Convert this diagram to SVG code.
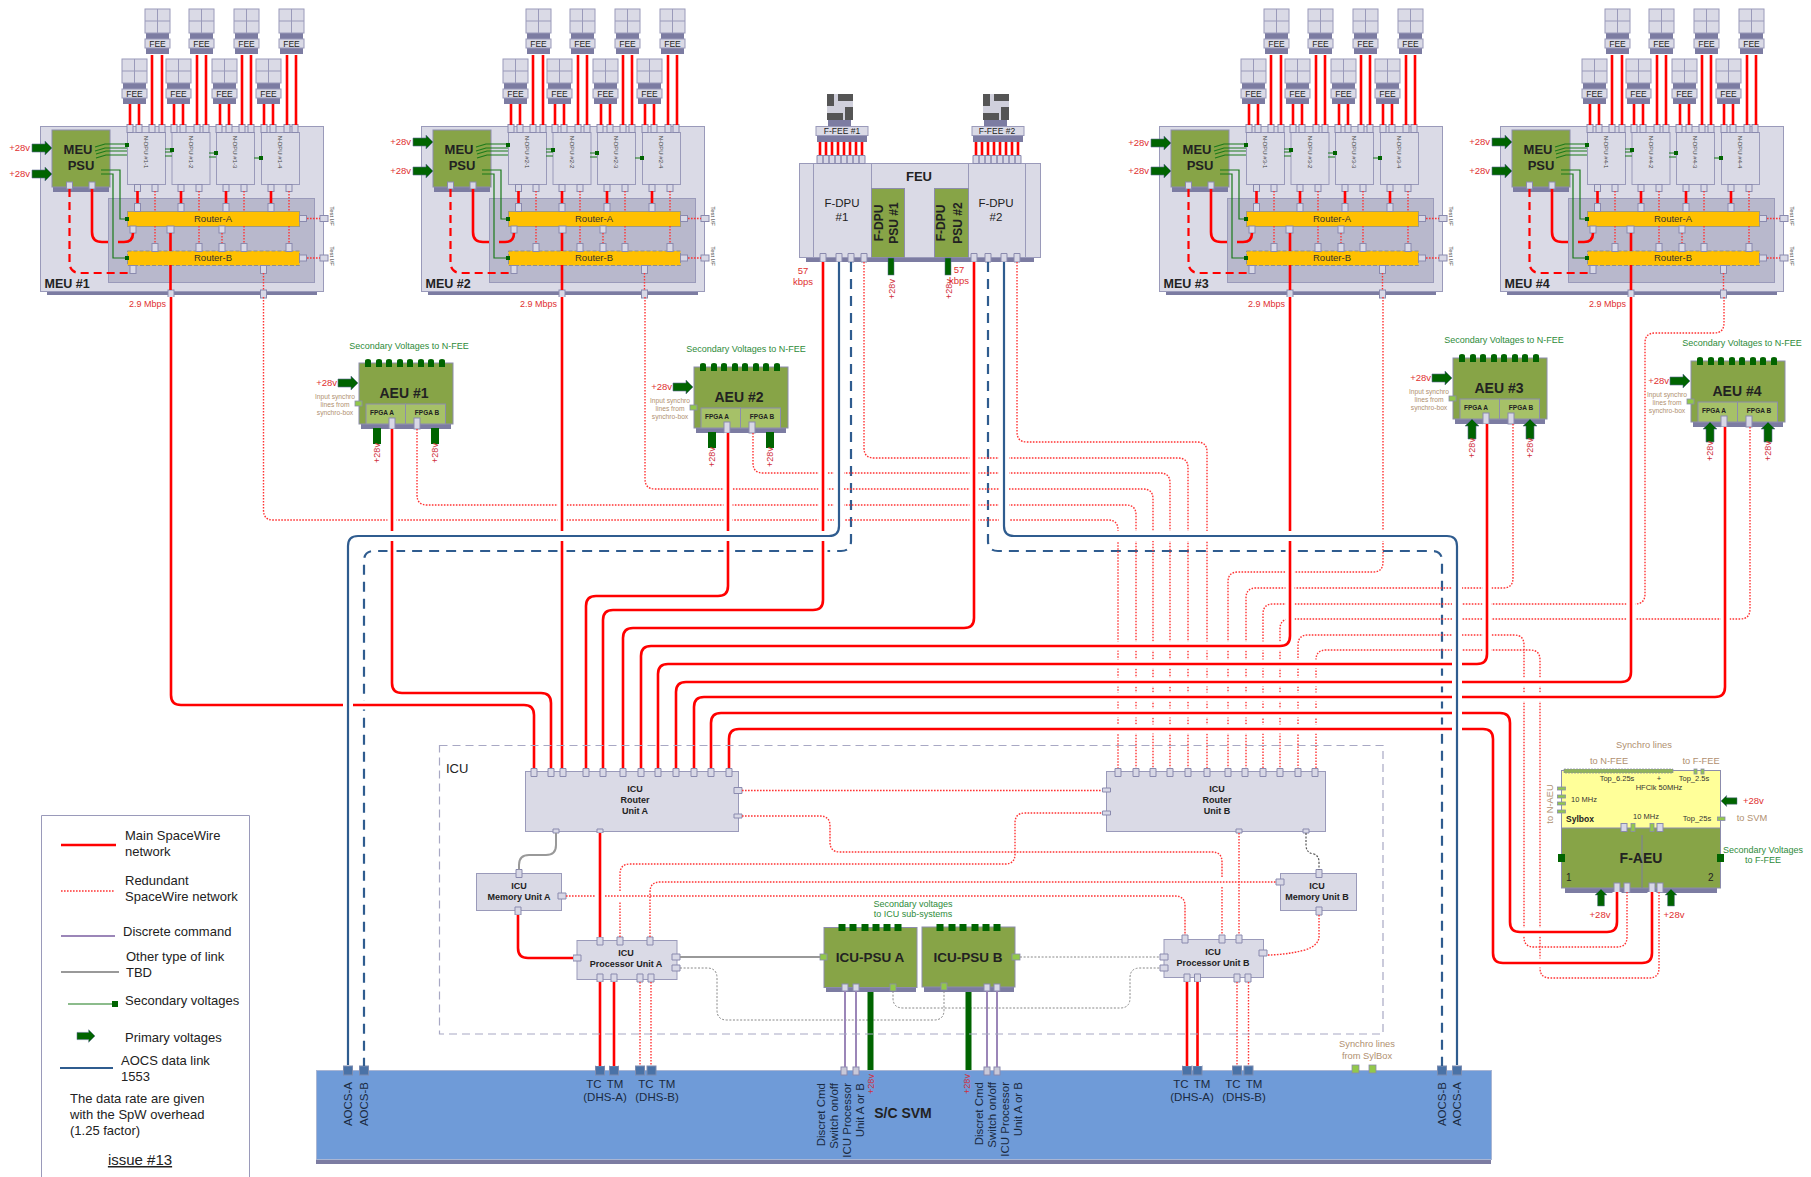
<svg xmlns="http://www.w3.org/2000/svg" width="1811" height="1177" viewBox="0 0 1811 1177">
<style>
text{font-family:"Liberation Sans",Arial,sans-serif;fill:#222}
.m{text-anchor:middle}.e{text-anchor:end}.b{font-weight:bold}
.box{fill:#dadae6;stroke:#9a9aba;stroke-width:1}
.sh{fill:#7c7ca2}
.ol{fill:#87a447;stroke:#8c8cac;stroke-width:1}
.p{fill:#d8d8e6;stroke:#8a8aae;stroke-width:1}
.lg{fill:#92c84a;stroke:#8a8aae;stroke-width:.8}
.dg{fill:#006400}
.port{fill:#4a72a6;stroke:#7c8cb0;stroke-width:1;width:9px;height:9px}
.sp{fill:#c8c8d8;stroke:#8a8aae;stroke-width:1;width:6px;height:8px}
.fee{font-size:8.5px;text-anchor:middle}
.nd{font-size:6px;text-anchor:middle;fill:#444}
.ti{font-size:6px;text-anchor:middle;fill:#444}
.rt{font-size:9.5px;text-anchor:middle;fill:#333}
.red{font-size:9.5px;fill:#e03030}
.rs{font-size:9px;fill:#d03040;text-anchor:middle}
.gr{font-size:9px;fill:#2e8b3a;text-anchor:middle}
.br{font-size:6.7px;fill:#b09070;text-anchor:middle}
.br2{font-size:9.3px;fill:#b09070;text-anchor:middle}
.ic{font-size:9px;font-weight:bold;text-anchor:middle}
.lt{font-size:13px}
.sv{font-size:11.5px;fill:#1a2a40}
.syl{font-size:7.5px;text-anchor:middle;fill:#333}
.w{fill:none;stroke-linecap:butt}
.ma{stroke:#f00;stroke-width:2.6;fill:none}
.do{stroke:#f33;stroke-width:1.4;stroke-dasharray:1.6 1.4;fill:none}
.da{stroke:#f00;stroke-width:2.2;stroke-dasharray:8 5;fill:none}
.gd{stroke:#888;stroke-width:1;stroke-dasharray:2 1.6;fill:none}
.gn{stroke:#1a7a1a;stroke-width:1.2;fill:none}
.pu{stroke:#9b86b8;stroke-width:2;fill:none}
.bl{stroke:#2f5c8f;stroke-width:2;fill:none}
.bd{stroke:#2f5c8f;stroke-width:2.2;stroke-dasharray:10 7;fill:none}
</style>
<defs>
<path id="arr" d="M0-4H13V-7L20 0 13 7V4H0Z" fill="#006400" stroke="#5a6a90" stroke-width=".6"/>
<g id="fee"><rect class="sh" x="1" y="24" width="23" height="21"/><rect class="box" width="25" height="24"/><path d="M12.5 0V24M0 12H25" stroke="#9a9aba" fill="none"/><rect class="box" y="30" width="25" height="9"/></g>
<g id="cam"><rect class="sh" x="1" y="24" width="23" height="8"/><rect width="26" height="26" fill="#d0d0dc"/><path fill="#555" d="M0 0h7v12H0zM11 0h15v7H11zM18 13h8v13h-8zM0 19h16v7H0z"/></g>
<g id="meu-base">
<rect class="sh" x="47" y="292" width="270" height="3"/>
<rect class="box" x="40.500" y="126.500" width="283" height="165"/>
<rect x="108.500" y="198.500" width="206" height="84" fill="#b8b8cc" stroke="#9a9aba"/>
<rect class="box" x="127.500" y="132.500" width="38" height="52"/><rect class="box" x="172" y="132.500" width="38" height="52"/><rect class="box" x="216.500" y="132.500" width="38" height="52"/><rect class="box" x="261.500" y="132.500" width="38" height="52"/>
<use href="#fee" x="145" y="9"/><use href="#fee" x="189" y="9"/><use href="#fee" x="234" y="9"/><use href="#fee" x="279" y="9"/>
<use href="#fee" x="122" y="59"/><use href="#fee" x="166" y="59"/><use href="#fee" x="212" y="59"/><use href="#fee" x="256" y="59"/>
<rect class="sh" x="53" y="187" width="56" height="5"/>
<rect class="ol" x="52" y="130" width="58" height="57"/>
<rect x="127.500" y="211.500" width="172" height="15" fill="#ffc000" stroke="#a09a80"/>
<rect x="127.500" y="251" width="172" height="14.500" fill="#ffc000" stroke="#8f8f8f" stroke-dasharray="4 2"/>
<g>
<rect class="p" x="127" y="124.500" width="6" height="8"/><rect class="p" x="136" y="124.500" width="6" height="8"/><rect class="p" x="149" y="124.500" width="6" height="8"/><rect class="p" x="159" y="124.500" width="6" height="8"/>
<rect class="p" x="171" y="124.500" width="6" height="8"/><rect class="p" x="180" y="124.500" width="6" height="8"/><rect class="p" x="194" y="124.500" width="6" height="8"/><rect class="p" x="203" y="124.500" width="6" height="8"/>
<rect class="p" x="216" y="124.500" width="6" height="8"/><rect class="p" x="226" y="124.500" width="6" height="8"/><rect class="p" x="239" y="124.500" width="6" height="8"/><rect class="p" x="248" y="124.500" width="6" height="8"/>
<rect class="p" x="261" y="124.500" width="6" height="8"/><rect class="p" x="270" y="124.500" width="6" height="8"/><rect class="p" x="284" y="124.500" width="6" height="8"/><rect class="p" x="292" y="124.500" width="6" height="8"/>
<rect class="p" x="134.500" y="184.500" width="6" height="7"/><rect class="p" x="152" y="184.500" width="6" height="7"/><rect class="p" x="178" y="184.500" width="6" height="7"/><rect class="p" x="196" y="184.500" width="6" height="7"/>
<rect class="p" x="223" y="184.500" width="6" height="7"/><rect class="p" x="241" y="184.500" width="6" height="7"/><rect class="p" x="268" y="184.500" width="6" height="7"/><rect class="p" x="286" y="184.500" width="6" height="7"/>
<rect class="p" x="134.500" y="203.500" width="6" height="8"/><rect class="p" x="178" y="203.500" width="6" height="8"/><rect class="p" x="223" y="203.500" width="6" height="8"/><rect class="p" x="268" y="203.500" width="6" height="8"/>
<rect class="p" x="130" y="226" width="6" height="7"/><rect class="p" x="219" y="226" width="6" height="7"/>
<rect class="p" x="152" y="243.500" width="6" height="8"/><rect class="p" x="196" y="243.500" width="6" height="8"/><rect class="p" x="219" y="243.500" width="6" height="8"/><rect class="p" x="241" y="243.500" width="6" height="8"/><rect class="p" x="286" y="243.500" width="6" height="8"/>
<rect class="p" x="130" y="265.500" width="6" height="8"/><rect class="p" x="260.500" y="265.500" width="6" height="8"/><rect class="p" x="260.500" y="290" width="6" height="8"/>
<rect class="p" x="299.500" y="215.500" width="7" height="6"/><rect class="p" x="320" y="215.500" width="8" height="6"/><rect class="p" x="299.500" y="255" width="7" height="6"/><rect class="p" x="320" y="255" width="8" height="6"/>
<rect class="p" x="66.500" y="182" width="6" height="7"/><rect class="p" x="89" y="182" width="6" height="7"/>
</g>
</g>
<g id="meu-wires">
<path class="ma" d="M130 104V125M139 104V125M174 104V125M183 104V125M220 104V125M229 104V125M264 104V125M273 104V125M152 55V125M162 55V125M197 55V125M206 55V125M242 55V125M251 55V125M287 55V125M296 55V125"/>
<path class="ma" stroke-width="2.200" d="M137.500 191V203M181 191V203M226 191V203M271 191V203M92 189V232Q92 242 102 242H108M118 242H124Q133 242 133 233"/>
<path class="da" d="M69.500 189V262Q69.500 273 80 273H128"/>
<path class="do" d="M155 191V211M199 191V211M244 191V211M289 191V211M155 226V243M199 226V243M222 233V243M244 226V243M289 226V243M307 218.500H320M307 258H320M263.500 273V290"/>
<path class="gn" d="M101 170H120V219H127M101 174H113V258H127M95 147L105 144H127M95 151L105 148H127M96 154L106 151H127M96 158L106 155H127M165 149H172M165 152H172M165 156H172M209 153H216M209 157H216M254 158H261"/>
<path class="dg" d="M125 143h4v4h-4zM170 148h4v4h-4zM214 151h4v4h-4zM259 156h4v4h-4zM125 217h4v4h-4zM125 256h4v4h-4z"/>
</g>
<g id="aeu-base">
<rect class="sh" x="2" y="61" width="90" height="5"/>
<rect class="ol" width="94" height="61"/>
<path class="dg" d="M6 4V-2Q6-4 9-4T12-2V4zM17 4V-2Q17-4 20-4T23-2V4zM27 4V-2Q27-4 30-4T33-2V4zM38 4V-2Q38-4 41-4T44-2V4zM48 4V-2Q48-4 51-4T54-2V4zM59 4V-2Q59-4 62-4T65-2V4zM69 4V-2Q69-4 72-4T75-2V4zM80 4V-2Q80-4 83-4T86-2V4z"/>
<rect x="7" y="41" width="39.500" height="20" fill="#a6c168" stroke="#8c8cac"/>
<rect x="46.500" y="41" width="40" height="20" fill="#a6c168" stroke="#8c8cac"/>
<rect class="p" x="30" y="55" width="6" height="11"/><rect class="p" x="55" y="55" width="6" height="11"/>
<rect class="lg" x="-4" y="38" width="7" height="5"/>
<use href="#arr" x="-21" y="20"/>
</g>
<g id="mainpaths">
<path d="M171 297V695Q171 705 181 705H524Q534 705 534 715V768"/>
<path d="M392 429V683Q392 693 402 693H541Q551 693 551 703V768"/>
<path d="M562 297V768"/>
<path d="M728 433V586Q728 596 718 596H596Q586 596 586 606V768"/>
<path d="M823 262V600Q823 610 813 610H613Q603 610 603 620V768"/>
<path d="M974 262V618Q974 628 964 628H633Q623 628 623 638V768"/>
<path d="M1290 297V636Q1290 646 1280 646H651Q641 646 641 656V768"/>
<path d="M1487 424V654Q1487 664 1477 664H668Q658 664 658 674V768"/>
<path d="M1631 297V672Q1631 682 1621 682H686Q676 682 676 692V768"/>
<path d="M1725 427V687Q1725 697 1715 697H704Q694 697 694 707V768"/>
<path d="M1617 892V922Q1617 932 1607 932H1520Q1510 932 1510 922V723Q1510 713 1500 713H721Q711 713 711 723V768"/>
<path d="M1652 892V953Q1652 963 1642 963H1503Q1493 963 1493 953V739Q1493 729 1483 729H739Q729 729 729 739V768"/>
<path d="M600 833V937M518 915V948Q518 958 528 958H573"/>
<path d="M600 982V1066M614 982V1066M1187 982V1066M1197.500 982V1066"/>
</g>
<g id="bluepaths">
<path d="M839 262V526Q839 536 829 536H358Q348 536 348 546V1065"/>
<path d="M1004 262V526Q1004 536 1014 536H1447Q1457 536 1457 546V1065"/>
</g>
</defs>

<g id="nodes">
<g id="legend">
<path d="M41.500 1177V815.500H249.500V1177" fill="#fff" stroke="#9a9aba"/>
<path class="ma" stroke-width="2" d="M61 845H116"/><path class="do" d="M61 891H114"/><path class="pu" d="M61 936H115"/><path stroke="#999" stroke-width="2" fill="none" d="M61 972H119"/><path class="gn" stroke-width="1.500" d="M68 1004H113"/><path class="dg" d="M112 1001h6v6h-6z"/><use href="#arr" transform="translate(77,1036)scale(.9)"/><path class="bl" d="M60 1068H113"/>
<text class="lt" x="125" y="840">Main SpaceWire</text><text class="lt" x="125" y="856">network</text>
<text class="lt" x="125" y="885">Redundant</text><text class="lt" x="125" y="901">SpaceWire network</text>
<text class="lt" x="123" y="936">Discrete command</text>
<text class="lt" x="126" y="961">Other type of link</text><text class="lt" x="126" y="977">TBD</text>
<text class="lt" x="125" y="1005">Secondary voltages</text>
<text class="lt" x="125" y="1042">Primary voltages</text>
<text class="lt" x="121" y="1065">AOCS data link</text><text class="lt" x="121" y="1081">1553</text>
<text class="lt" x="70" y="1103">The data rate are given</text><text class="lt" x="70" y="1119">with the SpW overhead</text><text class="lt" x="70" y="1135">(1.25 factor)</text>
<text class="m" x="140" y="1165" font-size="15" text-decoration="underline">issue #13</text>
</g>

<g id="meu1"><use href="#meu-base"/>
<use href="#arr" x="32" y="148"/><use href="#arr" x="32" y="174"/>
<rect class="p" x="167" y="226" width="7" height="7"/><rect class="p" x="168" y="290" width="6" height="8"/>
<text class="red e" x="30" y="151">+28v</text><text class="red e" x="30" y="177">+28v</text>
<text class="red e" x="166" y="307" style="font-size:9px">2.9 Mbps</text>
<text class="m b" x="78" y="154" font-size="13">MEU</text><text class="m b" x="81" y="170" font-size="13">PSU</text>
<text class="b" x="44.500" y="288" font-size="12.500">MEU #1</text>
<text class="rt" x="213" y="222">Router-A</text><text class="rt" x="213" y="261">Router-B</text>
<text class="fee" x="157.500" y="47">FEE</text><text class="fee" x="201.500" y="47">FEE</text><text class="fee" x="246.500" y="47">FEE</text><text class="fee" x="291.500" y="47">FEE</text>
<text class="fee" x="134.500" y="97">FEE</text><text class="fee" x="178.500" y="97">FEE</text><text class="fee" x="224.500" y="97">FEE</text><text class="fee" x="268.500" y="97">FEE</text>
<text class="nd" transform="translate(144,152)rotate(90)">N-DPU #1-1</text><text class="nd" transform="translate(189,152)rotate(90)">N-DPU #1-2</text><text class="nd" transform="translate(233,152)rotate(90)">N-DPU #1-3</text><text class="nd" transform="translate(278,152)rotate(90)">N-DPU #1-4</text>
<text class="ti" transform="translate(330,216)rotate(90)">Test I/F</text><text class="ti" transform="translate(330,256)rotate(90)">Test I/F</text>
</g>
<g id="meu2" transform="translate(381,0)"><use href="#meu-base"/>
<use href="#arr" x="32" y="142"/><use href="#arr" x="32" y="171"/>
<rect class="p" x="178" y="226" width="7" height="7"/><rect class="p" x="178" y="290" width="6" height="8"/>
<text class="red e" x="30" y="145">+28v</text><text class="red e" x="30" y="174">+28v</text>
<text class="red e" x="176" y="307" style="font-size:9px">2.9 Mbps</text>
<text class="m b" x="78" y="154" font-size="13">MEU</text><text class="m b" x="81" y="170" font-size="13">PSU</text>
<text class="b" x="44.500" y="288" font-size="12.500">MEU #2</text>
<text class="rt" x="213" y="222">Router-A</text><text class="rt" x="213" y="261">Router-B</text>
<text class="fee" x="157.500" y="47">FEE</text><text class="fee" x="201.500" y="47">FEE</text><text class="fee" x="246.500" y="47">FEE</text><text class="fee" x="291.500" y="47">FEE</text>
<text class="fee" x="134.500" y="97">FEE</text><text class="fee" x="178.500" y="97">FEE</text><text class="fee" x="224.500" y="97">FEE</text><text class="fee" x="268.500" y="97">FEE</text>
<text class="nd" transform="translate(144,152)rotate(90)">N-DPU #2-1</text><text class="nd" transform="translate(189,152)rotate(90)">N-DPU #2-2</text><text class="nd" transform="translate(233,152)rotate(90)">N-DPU #2-3</text><text class="nd" transform="translate(278,152)rotate(90)">N-DPU #2-4</text>
<text class="ti" transform="translate(330,216)rotate(90)">Test I/F</text><text class="ti" transform="translate(330,256)rotate(90)">Test I/F</text>
</g>
<g id="meu3" transform="translate(1119,0)"><use href="#meu-base"/>
<use href="#arr" x="32" y="143"/><use href="#arr" x="32" y="171"/>
<rect class="p" x="167" y="226" width="7" height="7"/><rect class="p" x="168" y="290" width="6" height="8"/>
<text class="red e" x="30" y="146">+28v</text><text class="red e" x="30" y="174">+28v</text>
<text class="red e" x="166" y="307" style="font-size:9px">2.9 Mbps</text>
<text class="m b" x="78" y="154" font-size="13">MEU</text><text class="m b" x="81" y="170" font-size="13">PSU</text>
<text class="b" x="44.500" y="288" font-size="12.500">MEU #3</text>
<text class="rt" x="213" y="222">Router-A</text><text class="rt" x="213" y="261">Router-B</text>
<text class="fee" x="157.500" y="47">FEE</text><text class="fee" x="201.500" y="47">FEE</text><text class="fee" x="246.500" y="47">FEE</text><text class="fee" x="291.500" y="47">FEE</text>
<text class="fee" x="134.500" y="97">FEE</text><text class="fee" x="178.500" y="97">FEE</text><text class="fee" x="224.500" y="97">FEE</text><text class="fee" x="268.500" y="97">FEE</text>
<text class="nd" transform="translate(144,152)rotate(90)">N-DPU #3-1</text><text class="nd" transform="translate(189,152)rotate(90)">N-DPU #3-2</text><text class="nd" transform="translate(233,152)rotate(90)">N-DPU #3-3</text><text class="nd" transform="translate(278,152)rotate(90)">N-DPU #3-4</text>
<text class="ti" transform="translate(330,216)rotate(90)">Test I/F</text><text class="ti" transform="translate(330,256)rotate(90)">Test I/F</text>
</g>
<g id="meu4" transform="translate(1460,0)"><use href="#meu-base"/>
<use href="#arr" x="32" y="142"/><use href="#arr" x="32" y="171"/>
<rect class="p" x="167" y="226" width="7" height="7"/><rect class="p" x="168" y="290" width="6" height="8"/>
<text class="red e" x="30" y="145">+28v</text><text class="red e" x="30" y="174">+28v</text>
<text class="red e" x="166" y="307" style="font-size:9px">2.9 Mbps</text>
<text class="m b" x="78" y="154" font-size="13">MEU</text><text class="m b" x="81" y="170" font-size="13">PSU</text>
<text class="b" x="44.500" y="288" font-size="12.500">MEU #4</text>
<text class="rt" x="213" y="222">Router-A</text><text class="rt" x="213" y="261">Router-B</text>
<text class="fee" x="157.500" y="47">FEE</text><text class="fee" x="201.500" y="47">FEE</text><text class="fee" x="246.500" y="47">FEE</text><text class="fee" x="291.500" y="47">FEE</text>
<text class="fee" x="134.500" y="97">FEE</text><text class="fee" x="178.500" y="97">FEE</text><text class="fee" x="224.500" y="97">FEE</text><text class="fee" x="268.500" y="97">FEE</text>
<text class="nd" transform="translate(144,152)rotate(90)">N-DPU #4-1</text><text class="nd" transform="translate(189,152)rotate(90)">N-DPU #4-2</text><text class="nd" transform="translate(233,152)rotate(90)">N-DPU #4-3</text><text class="nd" transform="translate(278,152)rotate(90)">N-DPU #4-4</text>
<text class="ti" transform="translate(330,216)rotate(90)">Test I/F</text><text class="ti" transform="translate(330,256)rotate(90)">Test I/F</text>
</g>

<g id="feu">
<rect class="sh" x="806" y="257" width="228" height="5"/>
<rect class="box" x="799.500" y="163.500" width="241" height="94"/>
<rect class="box" x="813.500" y="163.500" width="58" height="94"/><rect class="box" x="968.500" y="163.500" width="57" height="94"/>
<rect class="ol" x="871.500" y="188.500" width="33" height="69"/><rect class="ol" x="934.500" y="188.500" width="34" height="69"/>
<use href="#cam" x="827" y="94"/><use href="#cam" x="983" y="94"/>
<rect class="sh" x="817" y="136" width="50" height="6"/><rect class="sh" x="973" y="136" width="50" height="6"/>
<rect class="box" x="816" y="126.500" width="52" height="9"/><rect class="box" x="972" y="126.500" width="52" height="9"/>
<path class="ma" d="M820 142V155M826 142V155M832 142V155M838 142V155M844 142V155M850 142V155M856 142V155M862 142V155M976 142V155M982 142V155M988 142V155M994 142V155M1000 142V155M1006 142V155M1012 142V155M1018 142V155"/>
<g fill="#d8d8e6" stroke="#8a8aae"><path d="M817 155.500h6v8h-6zM823 155.500h6v8h-6zM829 155.500h6v8h-6zM835 155.500h6v8h-6zM841 155.500h6v8h-6zM847 155.500h6v8h-6zM853 155.500h6v8h-6zM859 155.500h6v8h-6zM973 155.500h6v8h-6zM979 155.500h6v8h-6zM985 155.500h6v8h-6zM991 155.500h6v8h-6zM997 155.500h6v8h-6zM1003 155.500h6v8h-6zM1009 155.500h6v8h-6zM1015 155.500h6v8h-6z"/>
<path d="M820 253.500h6v8.500h-6zM836 253.500h6v8.500h-6zM848 253.500h6v8.500h-6zM861 253.500h6v8.500h-6zM971 253.500h6v8.500h-6zM985 253.500h6v8.500h-6zM1001 253.500h6v8.500h-6zM1014 253.500h6v8.500h-6z"/></g>
<rect class="dg" x="888" y="258" width="6" height="17" stroke="#5a6a90" stroke-width=".5"/><rect class="dg" x="945" y="258" width="6" height="17" stroke="#5a6a90" stroke-width=".5"/>
<text class="m" x="842" y="133.500" font-size="8.500">F-FEE #1</text><text class="m" x="997" y="133.500" font-size="8.500">F-FEE #2</text>
<text class="m b" x="919" y="181" font-size="13">FEU</text>
<text class="m" x="842" y="207" font-size="11.500">F-DPU</text><text class="m" x="842" y="221" font-size="11.500">#1</text>
<text class="m" x="996" y="207" font-size="11.500">F-DPU</text><text class="m" x="996" y="221" font-size="11.500">#2</text>
<text class="m b" font-size="12" transform="translate(883,223)rotate(-90)">F-DPU</text><text class="m b" font-size="12" transform="translate(898,223)rotate(-90)">PSU #1</text>
<text class="m b" font-size="12" transform="translate(945,223)rotate(-90)">F-DPU</text><text class="m b" font-size="12" transform="translate(962,223)rotate(-90)">PSU #2</text>
<text class="rs" transform="translate(895,289)rotate(-90)">+28v</text><text class="rs" transform="translate(952,289)rotate(-90)">+28v</text>
<text class="red m" x="803" y="274">57</text><text class="red m" x="803" y="285">kbps</text>
<text class="red m" x="959" y="273">57</text><text class="red m" x="959" y="284">kbps</text>
</g>

<g id="aeu1" transform="translate(359,363)"><use href="#aeu-base"/>
<rect class="dg" x="14" y="65" width="8" height="16"/><rect class="dg" x="72" y="65" width="8" height="16"/>
<text class="gr" x="50" y="-14">Secondary Voltages to N-FEE</text>
<text class="red e" x="-22" y="23">+28v</text>
<text class="br" x="-24" y="36">Input synchro</text><text class="br" x="-24" y="44">lines from</text><text class="br" x="-24" y="52">synchro-box</text>
<text class="m b" x="45" y="35" font-size="14">AEU #1</text>
<text class="m b" x="23" y="52" font-size="6.500">FPGA A</text><text class="m b" x="68" y="52" font-size="6.500">FPGA B</text>
<text class="rs" transform="translate(21,90)rotate(-90)">+28v</text><text class="rs" transform="translate(79,90)rotate(-90)">+28v</text>
</g>
<g id="aeu2" transform="translate(694,367)"><use href="#aeu-base"/>
<rect class="dg" x="14" y="65" width="8" height="16"/><rect class="dg" x="72" y="65" width="8" height="16"/>
<text class="gr" x="52" y="-15">Secondary Voltages to N-FEE</text>
<text class="red e" x="-22" y="23">+28v</text>
<text class="br" x="-24" y="36">Input synchro</text><text class="br" x="-24" y="44">lines from</text><text class="br" x="-24" y="52">synchro-box</text>
<text class="m b" x="45" y="35" font-size="14">AEU #2</text>
<text class="m b" x="23" y="52" font-size="6.500">FPGA A</text><text class="m b" x="68" y="52" font-size="6.500">FPGA B</text>
<text class="rs" transform="translate(21,90)rotate(-90)">+28v</text><text class="rs" transform="translate(79,90)rotate(-90)">+28v</text>
</g>
<g id="aeu3" transform="translate(1453,358)"><use href="#aeu-base"/>
<use href="#arr" transform="translate(19,81)rotate(-90)"/><use href="#arr" transform="translate(77,81)rotate(-90)"/>
<text class="gr" x="51" y="-15">Secondary Voltages to N-FEE</text>
<text class="red e" x="-22" y="23">+28v</text>
<text class="br" x="-24" y="36">Input synchro</text><text class="br" x="-24" y="44">lines from</text><text class="br" x="-24" y="52">synchro-box</text>
<text class="m b" x="46" y="35" font-size="14">AEU #3</text>
<text class="m b" x="23" y="52" font-size="6.500">FPGA A</text><text class="m b" x="68" y="52" font-size="6.500">FPGA B</text>
<text class="rs" transform="translate(22,90)rotate(-90)">+28v</text><text class="rs" transform="translate(80,90)rotate(-90)">+28v</text>
</g>
<g id="aeu4" transform="translate(1691,361)"><use href="#aeu-base"/>
<use href="#arr" transform="translate(19,81)rotate(-90)"/><use href="#arr" transform="translate(77,81)rotate(-90)"/>
<text class="gr" x="51" y="-15">Secondary Voltages to N-FEE</text>
<text class="red e" x="-22" y="23">+28v</text>
<text class="br" x="-24" y="36">Input synchro</text><text class="br" x="-24" y="44">lines from</text><text class="br" x="-24" y="52">synchro-box</text>
<text class="m b" x="46" y="35" font-size="14">AEU #4</text>
<text class="m b" x="23" y="52" font-size="6.500">FPGA A</text><text class="m b" x="68" y="52" font-size="6.500">FPGA B</text>
<text class="rs" transform="translate(22,90)rotate(-90)">+28v</text><text class="rs" transform="translate(80,90)rotate(-90)">+28v</text>
</g>

<g id="svm">
<rect class="sh" x="316" y="1159" width="1175" height="5"/>
<rect x="316.500" y="1070.500" width="1175" height="89" fill="#6f9bd8" stroke="#a9b6d4"/>
<text class="sv" transform="translate(352,1082)rotate(-90)" text-anchor="end">AOCS-A</text><text class="sv" transform="translate(368,1082)rotate(-90)" text-anchor="end">AOCS-B</text>
<text class="sv" transform="translate(1446,1082)rotate(-90)" text-anchor="end">AOCS-B</text><text class="sv" transform="translate(1461,1082)rotate(-90)" text-anchor="end">AOCS-A</text>
<text class="sv m" x="594" y="1088">TC</text><text class="sv m" x="615" y="1088">TM</text><text class="sv m" x="605" y="1101">(DHS-A)</text>
<text class="sv m" x="646" y="1088">TC</text><text class="sv m" x="667" y="1088">TM</text><text class="sv m" x="657" y="1101">(DHS-B)</text>
<text class="sv m" x="1181" y="1088">TC</text><text class="sv m" x="1202" y="1088">TM</text><text class="sv m" x="1192" y="1101">(DHS-A)</text>
<text class="sv m" x="1233" y="1088">TC</text><text class="sv m" x="1254" y="1088">TM</text><text class="sv m" x="1244" y="1101">(DHS-B)</text>
<text class="sv" transform="translate(825,1083)rotate(-90)" text-anchor="end">Discret Cmd</text><text class="sv" transform="translate(838,1083)rotate(-90)" text-anchor="end">Switch on/off</text><text class="sv" transform="translate(851,1083)rotate(-90)" text-anchor="end">ICU Processor</text><text class="sv" transform="translate(864,1083)rotate(-90)" text-anchor="end">Unit A or B</text>
<text class="sv" transform="translate(983,1082)rotate(-90)" text-anchor="end">Discret Cmd</text><text class="sv" transform="translate(996,1082)rotate(-90)" text-anchor="end">Switch on/off</text><text class="sv" transform="translate(1009,1082)rotate(-90)" text-anchor="end">ICU Processor</text><text class="sv" transform="translate(1022,1082)rotate(-90)" text-anchor="end">Unit A or B</text>
<text class="rs" transform="translate(874,1084)rotate(-90)">+28v</text><text class="rs" transform="translate(970,1084)rotate(-90)">+28v</text>
<text class="m b" x="903" y="1118" font-size="14">S/C SVM</text>
<rect class="port" x="343.500" y="1066"/><rect class="port" x="359.500" y="1066"/><rect class="port" x="1437.500" y="1066"/><rect class="port" x="1452.500" y="1066"/>
<rect class="port" x="595.500" y="1066"/><rect class="port" x="609.500" y="1066"/><rect class="port" x="635.500" y="1066"/><rect class="port" x="647" y="1066"/>
<rect class="port" x="1182.500" y="1066"/><rect class="port" x="1193" y="1066"/><rect class="port" x="1232.500" y="1066"/><rect class="port" x="1244" y="1066"/>
<rect class="sp" x="841" y="1067"/><rect class="sp" x="853" y="1067"/><rect class="sp" x="984" y="1067"/><rect class="sp" x="994" y="1067"/>
<rect class="lg" x="1352" y="1065" width="7" height="8"/><rect class="lg" x="1369" y="1065" width="7" height="8"/>
<text class="br2" x="1367" y="1047">Synchro lines</text><text class="br2" x="1367" y="1059">from SylBox</text>
</g>

<g id="icu-router-a">
<rect class="box" x="525.500" y="771.500" width="213" height="60"/>
<path fill="#d8d8e6" stroke="#8a8aae" d="M531 768.500h6v8h-6zM548 768.500h6v8h-6zM560 768.500h6v8h-6zM583 768.500h6v8h-6zM600 768.500h6v8h-6zM620 768.500h6v8h-6zM638 768.500h6v8h-6zM655 768.500h6v8h-6zM673 768.500h6v8h-6zM691 768.500h6v8h-6zM708 768.500h6v8h-6zM726 768.500h6v8h-6zM734 787.500h8v6h-8zM734 814h8v4h-8zM553 829h6v4h-6zM597 829h6v4h-6z"/>
<text class="ic" x="635" y="792">ICU</text><text class="ic" x="635" y="803">Router</text><text class="ic" x="635" y="814">Unit A</text>
</g>
<g id="icu-router-b">
<rect class="box" x="1106.500" y="771.500" width="219" height="60"/>
<path fill="#d8d8e6" stroke="#8a8aae" d="M1115 768.500h6v8h-6zM1133 768.500h6v8h-6zM1150 768.500h6v8h-6zM1167 768.500h6v8h-6zM1185 768.500h6v8h-6zM1204 768.500h6v8h-6zM1225 768.500h6v8h-6zM1242 768.500h6v8h-6zM1260 768.500h6v8h-6zM1277 768.500h6v8h-6zM1295 768.500h6v8h-6zM1312 768.500h6v8h-6zM1102.500 788h8v4h-8zM1102.500 811h8v4h-8zM1236 829h6v4h-6zM1303 829h6v4h-6z"/>
<text class="ic" x="1217" y="792">ICU</text><text class="ic" x="1217" y="803">Router</text><text class="ic" x="1217" y="814">Unit B</text>
</g>
<g id="icu-mem-a">
<rect class="box" x="476.500" y="873.500" width="85" height="37"/>
<path fill="#d8d8e6" stroke="#8a8aae" d="M516 869.500h6v8h-6zM515 907h6v8h-6zM558 893h8v6h-8z"/>
<text class="ic" x="519" y="889">ICU</text><text class="ic" x="519" y="900">Memory Unit A</text>
</g>
<g id="icu-mem-b">
<rect class="box" x="1280.500" y="873.500" width="76" height="37"/>
<path fill="#d8d8e6" stroke="#8a8aae" d="M1316 869.500h6v8h-6zM1316 907h6v8h-6zM1276 879h8v6h-8z"/>
<text class="ic" x="1317" y="889">ICU</text><text class="ic" x="1317" y="900">Memory Unit B</text>
</g>
<g id="icu-proc-a">
<rect class="box" x="577" y="940.500" width="100" height="39"/>
<path fill="#d8d8e6" stroke="#8a8aae" d="M597 937h6v8h-6zM617 937h6v8h-6zM647 937h6v8h-6zM573 955h8v6h-8zM672 954h8v6h-8zM672 965h8v6h-8zM597 974h6v8h-6zM611 974h6v8h-6zM637 974h6v8h-6zM648 974h6v8h-6z"/>
<text class="ic" x="626" y="956">ICU</text><text class="ic" x="626" y="967">Processor Unit A</text>
</g>
<g id="icu-proc-b">
<rect class="box" x="1164" y="939.500" width="99.500" height="38"/>
<path fill="#d8d8e6" stroke="#8a8aae" d="M1182 935h6v8h-6zM1219 935h6v8h-6zM1236 935h6v8h-6zM1160 954h8v6h-8zM1160 965h8v6h-8zM1259 950h8v6h-8zM1184 974h6v8h-6zM1194.500 974h6v8h-6zM1234 974h6v8h-6zM1245 974h6v8h-6z"/>
<text class="ic" x="1213" y="955">ICU</text><text class="ic" x="1213" y="966">Processor Unit B</text>
</g>
<g id="icu-psu-a">
<rect class="sh" x="826" y="987" width="90" height="5"/>
<rect class="ol" x="824" y="927.500" width="93" height="60"/>
<path class="dg" d="M838.500 924h7v7h-7zM849.500 924h7v7h-7zM861.500 924h7v7h-7zM872.500 924h7v7h-7zM883.500 924h7v7h-7zM894.500 924h7v7h-7z"/>
<rect class="lg" x="820" y="954" width="7" height="6"/><rect class="p" x="842" y="984" width="6" height="7"/><rect class="p" x="853" y="984" width="6" height="7"/><rect class="lg" x="890" y="984" width="6" height="7"/>
<text class="m b" x="870" y="962" font-size="13.500">ICU-PSU A</text>
<text class="gr" x="913" y="907">Secondary voltages</text><text class="gr" x="913" y="917">to ICU sub-systems</text>
</g>
<g id="icu-psu-b">
<rect class="sh" x="924" y="987" width="90" height="5"/>
<rect class="ol" x="922" y="927" width="93" height="60"/>
<path class="dg" d="M936.500 924h7v7h-7zM948.500 924h7v7h-7zM959.500 924h7v7h-7zM971.500 924h7v7h-7zM982.500 924h7v7h-7zM993.500 924h7v7h-7z"/>
<rect class="lg" x="1012" y="954" width="8" height="6"/><rect class="lg" x="941" y="983" width="6" height="7"/><rect class="p" x="984" y="984" width="6" height="7"/><rect class="p" x="994" y="984" width="6" height="7"/>
<text class="m b" x="968" y="962" font-size="13.500">ICU-PSU B</text>
</g>

<g id="f-aeu">
<rect class="sh" x="1565" y="888" width="152" height="5"/>
<rect x="1561.500" y="770.500" width="159" height="58" fill="#ffff99" stroke="#8c8cac"/>
<rect class="ol" x="1561.500" y="828" width="159" height="60"/>
<path d="M1642 835V888" stroke="#7c7ca2" fill="none"/>
<rect x="1564" y="769" width="109" height="4" fill="#8fb35a" stroke="#8a8aae" stroke-dasharray="2 1" stroke-width=".7"/>
<rect class="lg" x="1694" y="769" width="3" height="5"/><rect class="lg" x="1701" y="769" width="3" height="5"/>
<rect class="lg" x="1557.500" y="787" width="8" height="3"/><rect class="lg" x="1557.500" y="795" width="8" height="3"/><rect class="lg" x="1557.500" y="802" width="8" height="3"/><rect class="lg" x="1557.500" y="810" width="8" height="3"/>
<rect class="lg" x="1717.500" y="817" width="7.500" height="3.500"/>
<rect class="p" x="1621" y="823.500" width="6" height="8"/><rect class="lg" x="1631" y="823.500" width="4" height="8"/><rect class="lg" x="1650" y="823.500" width="4" height="8"/><rect class="p" x="1657" y="823.500" width="6" height="8"/>
<path class="dg" d="M1558 854h7v8h-7zM1717 854h7v8h-7z"/>
<rect class="p" x="1614" y="883" width="6" height="9.500"/><rect class="p" x="1624" y="883" width="6" height="9.500"/><rect class="p" x="1649" y="883" width="6" height="9.500"/><rect class="p" x="1657" y="883" width="6" height="9.500"/>
<use href="#arr" transform="translate(1601,906)rotate(-90)scale(.85)"/><use href="#arr" transform="translate(1671,906)rotate(-90)scale(.85)"/>
<use href="#arr" transform="translate(1737,801)rotate(180)scale(.8)"/>
<text class="br2" x="1644" y="748">Synchro lines</text><text class="br2" x="1609" y="764">to N-FEE</text><text class="br2" x="1701" y="764">to F-FEE</text>
<text class="br2" transform="translate(1553,804)rotate(-90)">to N-AEU</text><text class="br2" x="1752" y="821">to SVM</text>
<text class="syl" x="1617" y="781">Top_6.25s</text><text class="syl" x="1659" y="781">+</text><text class="syl" x="1659" y="790">HFClk 50MHz</text><text class="syl" x="1694" y="781">Top_2.5s</text>
<text class="syl" x="1584" y="802">10 MHz</text><text class="syl" x="1646" y="819">10 MHz</text><text class="syl" x="1697" y="821">Top_25s</text>
<text class="b m" x="1580" y="822" font-size="8.500">Sylbox</text>
<text class="b m" x="1641" y="863" font-size="14">F-AEU</text>
<text x="1566" y="881" font-size="10">1</text><text x="1708" y="881" font-size="10">2</text>
<text class="red" x="1743" y="804">+28v</text><text class="red m" x="1600" y="918">+28v</text><text class="red m" x="1674" y="918">+28v</text>
<text class="gr" x="1763" y="853">Secondary Voltages</text><text class="gr" x="1763" y="863">to F-FEE</text>
</g>
</g>

<g id="connectors">
<use href="#meu-wires"/><use href="#meu-wires" x="381"/><use href="#meu-wires" x="1119"/><use href="#meu-wires" x="1460"/>
<path class="ma" d="M170.500 233V251M170.500 265V290M562 233V251M562 265V290M1290 233V251M1290 265V290M1631 233V251M1631 265V290"/>
<path class="bd" d="M851 262V541Q851 551 841 551H374Q364 551 364 561V1066"/>
<path class="bd" d="M988 262V541Q988 551 998 551H1432Q1442 551 1442 561V1066"/>
<g class="do">
<path d="M1017 262V432Q1017 442 1027 442H1197Q1207 442 1207 452V768"/>
<path d="M864 262V448Q864 458 874 458H1178Q1188 458 1188 468V768"/>
<path d="M753 433V463Q753 473 763 473H1160Q1170 473 1170 483V768"/>
<path d="M645 297V479Q645 489 655 489H1143Q1153 489 1153 499V768"/>
<path d="M417 429V495Q417 505 427 505H1126Q1136 505 1136 515V768"/>
<path d="M263.500 297V510Q263.500 520 273 520H1108Q1118 520 1118 530V768"/>
<path d="M1383 297V562Q1383 572 1373 572H1238Q1228 572 1228 582V768"/>
<path d="M1513 424V578Q1513 588 1503 588H1256Q1246 588 1246 598V768"/>
<path d="M1724 297V323Q1724 333 1714 333H1655Q1645 333 1645 343V594Q1645 604 1635 604H1273Q1263 604 1263 614V768"/>
<path d="M1750 427V609Q1750 619 1740 619H1290Q1280 619 1280 629V768"/>
<path d="M1627 892V937Q1627 947 1617 947H1534Q1524 947 1524 937V645Q1524 635 1514 635H1308Q1298 635 1298 645V768"/>
<path d="M1659 892V968Q1659 978 1649 978H1550Q1540 978 1540 968V660Q1540 650 1530 650H1326Q1316 650 1316 660V768"/>
<path d="M742 790.500H1102M742 816H820Q830 816 830 826V842Q830 852 840 852H1212Q1222 852 1222 862V877M1222 887V935"/>
<path d="M620 937V901M620 891V874Q620 864 630 864H1005Q1015 864 1015 854V823Q1015 813 1025 813H1102"/>
<path d="M650 937V892Q650 882 660 882H1276"/>
<path d="M566 896H1175Q1185 896 1185 906V935"/>
<path d="M1239 833V935M1319 915V935Q1320 945 1305 950Q1285 955 1267 955"/>
<path d="M640 982V1066M651 982V1066M1237 982V1066M1248.500 982V1066"/>
</g>
<use href="#mainpaths" class="w" stroke="#fff" stroke-width="9"/>
<use href="#mainpaths" class="w" stroke="#f00" stroke-width="2.600"/>
<use href="#bluepaths" class="w" stroke="#fff" stroke-width="10"/>
<use href="#bluepaths" class="w" stroke="#2f5c8f" stroke-width="2.200"/>
<path d="M556 833V845Q556 855 546 855H529Q519 855 519 865V869.500M680 957H820" stroke="#999" stroke-width="2" fill="none"/>
<path d="M1306 833V845Q1306 853 1314 854Q1319 856 1319 862V869.500" stroke="#555" stroke-width="1.200" stroke-dasharray="2 1.500" fill="none"/>
<path class="gd" d="M680 968H707Q717 968 717 978V1010Q717 1020 727 1020H934Q944 1020 944 1010V990M893 991V998Q893 1008 903 1008H1120Q1130 1008 1130 998V978Q1130 968 1140 968H1160M1020 957H1160"/>
<path class="pu" d="M845 991V1067M856 991V1067M987 991V1067M997 991V1067"/>
<path stroke="#006400" stroke-width="6" fill="none" d="M870.500 992V1070M968.500 992V1070"/>
</g>

<g id="icu">
<rect x="439.500" y="745.500" width="943.500" height="288.500" fill="none" stroke="#a8a8c4" stroke-width="1.200" stroke-dasharray="8 5"/>
<text x="446" y="773" font-size="13">ICU</text>
</g>
</svg>
